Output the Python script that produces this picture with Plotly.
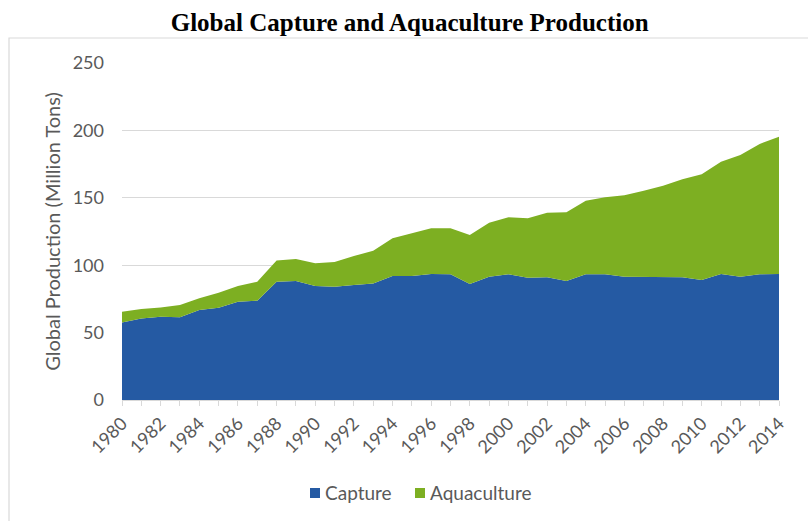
import plotly.graph_objects as go

# Global fisheries output, million tons
years = list(range(1980, 2015))
capture = [57.5, 60.5, 61.8, 61.3, 66.8, 68.5, 72.9, 73.7, 87.8, 88.3,
           84.6, 84.0, 85.3, 86.5, 92.0, 92.0, 93.5, 93.2, 86.0, 91.5,
           93.2, 90.7, 91.0, 88.3, 93.2, 93.2, 91.5, 91.5, 91.5, 91.0,
           89.0, 93.5, 91.5, 93.2, 93.5]
aquaculture = [8.0, 7.0, 6.9, 9.2, 8.6, 11.1, 11.7, 14.1, 15.6, 16.3,
               16.8, 18.3, 21.5, 24.3, 28.0, 31.6, 33.9, 34.2, 36.4, 40.0,
               42.3, 44.1, 48.0, 50.9, 54.7, 57.2, 60.3, 63.8, 67.5, 72.7,
               78.4, 83.3, 90.2, 96.8, 101.8]
series_names = ["Capture", "Aquaculture"]
y_ticks = [0, 50, 100, 150, 200, 250]

BLUE = "#255AA3"
GREEN = "#7DAF22"
GREY_TEXT = "#595959"
GREY_LINE = "#D9D9D9"
FONT = "Lato, 'Open Sans', sans-serif"

# plot-area geometry in pixels, used to place the legend keys
L, R, T, B = 122, 779, 63, 400
def px_x(p):
    return (p - L) / (R - L)
def px_y(p):
    return (B - p) / (B - T)

fig = go.Figure()

for name, vals, col in zip(series_names, [capture, aquaculture], [BLUE, GREEN]):
    fig.add_trace(go.Scatter(
        x=years, y=vals, name=name, stackgroup="prod", mode="lines",
        line=dict(width=0, color=col), fillcolor=col, showlegend=False,
        hoverinfo="x+y+name",
    ))

# outer chart frame
fig.add_shape(type="rect", xref="paper", yref="paper",
              x0=px_x(9), x1=px_x(830), y0=px_y(560), y1=px_y(38),
              line=dict(color=GREY_LINE, width=1.2), fillcolor="rgba(0,0,0,0)",
              layer="below")

# legend: colour key squares with labels below the axis
legend_keys = [(310, 323), (415, 428)]
for (sq_x, txt_x), name, col in zip(legend_keys, series_names, [BLUE, GREEN]):
    fig.add_shape(type="rect", xref="paper", yref="paper",
                  x0=px_x(sq_x), x1=px_x(sq_x + 10),
                  y0=px_y(498), y1=px_y(488),
                  line=dict(width=0), fillcolor=col)
    fig.add_annotation(text=name, xref="paper", yref="paper",
                       x=px_x(txt_x), y=px_y(493), xanchor="left",
                       yanchor="middle", showarrow=False,
                       font=dict(size=19, color=GREY_TEXT, family=FONT))

fig.update_layout(
    width=808, height=521,
    margin=dict(l=L, r=808 - R, t=T, b=521 - B),
    paper_bgcolor="white", plot_bgcolor="white",
    showlegend=False,
    title=dict(
        text="<b>Global Capture and Aquaculture Production</b>",
        font=dict(family="'Liberation Serif', 'Times New Roman', serif",
                  size=25, color="black"),
        x=0.507, xref="container", xanchor="center",
        y=0.957, yref="container", yanchor="middle",
    ),
    font=dict(family=FONT, color=GREY_TEXT, size=18),
    xaxis=dict(
        range=[1980, 2014], tickmode="linear", tick0=1980, dtick=2,
        tickangle=-45, ticks="outside", ticklen=5, tickcolor=GREY_LINE,
        minor=dict(ticks="outside", dtick=1, ticklen=5, tickcolor=GREY_LINE),
        showline=True, linecolor=GREY_LINE, linewidth=1,
        showgrid=False, zeroline=False,
        tickfont=dict(size=18, color=GREY_TEXT, family=FONT),
    ),
    yaxis=dict(
        range=[0, 250], tickvals=y_ticks, showgrid=True,
        gridcolor=GREY_LINE, gridwidth=1, zeroline=False,
        showline=False, ticks="", ticklabelstandoff=17,
        tickfont=dict(size=18, color=GREY_TEXT, family=FONT),
        title=dict(text="Global Production (Million Tons)",
                   font=dict(size=20, color=GREY_TEXT, family=FONT),
                   standoff=6),
    ),
)

fig.write_html("out.html")
